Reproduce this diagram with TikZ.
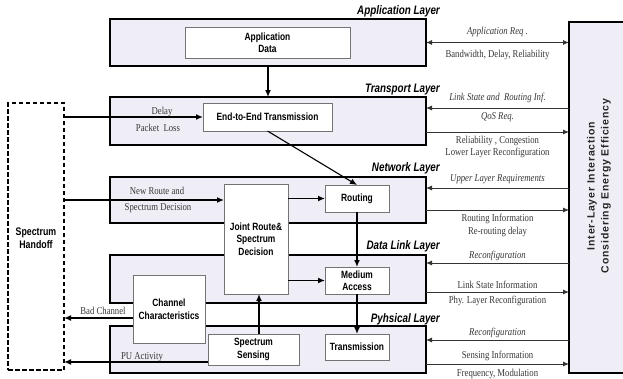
\documentclass[tikz,border=0pt]{standalone}
\usepackage{fontspec}
\setmainfont{Liberation Serif}
\newfontfamily\lblfont[FakeStretch=0.83]{Liberation Serif}
\newfontfamily\boxfont[FakeStretch=0.8]{Liberation Sans}
\newfontfamily\ilfont[LetterSpace=8]{Liberation Sans}
\usetikzlibrary{arrows.meta}
\definecolor{layerfill}{RGB}{239,238,246}
\definecolor{lblgray}{RGB}{55,55,55}
\begin{document}
\begin{tikzpicture}[x=1pt,y=-1pt,
  layer/.style={draw=black, line width=1.6pt, fill=layerfill, inner sep=0pt, outer sep=0pt},
  inbox/.style={draw=black!55, line width=0.8pt, fill=white, inner sep=1pt, outer sep=0pt, align=center,
    font=\boxfont\fontsize{10.5}{12.5}\selectfont\bfseries},
  ltitle/.style={font=\boxfont\fontsize{12.3}{14}\selectfont\bfseries\itshape, anchor=east, inner sep=0pt},
  lbl/.style={font=\lblfont\fontsize{10.5}{12.5}\selectfont, text=lblgray, inner sep=0pt, align=center},
  ilbl/.style={font=\lblfont\fontsize{10.5}{12.5}\selectfont\itshape, text=lblgray, inner sep=0pt, align=center},
  thickarrow/.style={line width=1.4pt, -{Latex[length=7pt,width=6pt]}},
  rarr/.style={line width=0.9pt, draw=black!80, -{Latex[length=6pt,width=5pt]}},
  handbox/.style={draw=black, line width=1.6pt, dash pattern=on 4.5pt off 2.5pt, fill=white, inner sep=0pt, outer sep=0pt,
    align=center, font=\boxfont\fontsize{11}{13.5}\selectfont\bfseries}
]
\fill[white] (0,0) rectangle (623,378);
\useasboundingbox (0,0) rectangle (623,378);

% layers
\node[layer, minimum width=316pt, minimum height=47pt] (app) at (268,42.5) {};
\node[layer, minimum width=316pt, minimum height=48pt] (trans) at (268,121) {};
\node[layer, minimum width=316pt, minimum height=46pt] (net) at (268,200) {};
\node[layer, minimum width=316pt, minimum height=48pt] (dl) at (268,279) {};
\node[layer, minimum width=316pt, minimum height=47pt] (phy) at (268,349.5) {};

% right box
\node[layer, minimum width=60pt, minimum height=351pt] (ilb) at (599,197.5) {};
\node[rotate=90, align=center, font=\ilfont\fontsize{10.5}{14}\selectfont\bfseries, text=black!85] (ilbt) at (599,186)
  {Inter-Layer Interaction\\Considering Energy Efficiency};

% layer titles
\node[ltitle] (tapp) at (440,11) {Application Layer};
\node[ltitle] (ttrans) at (440,90) {Transport Layer};
\node[ltitle] (tnet) at (440,168) {Network Layer};
\node[ltitle] (tdl) at (440,246) {Data Link Layer};
\node[ltitle] (tphy) at (440,319) {Pyhsical Layer};

% inner boxes
\node[inbox, minimum width=165pt, minimum height=31pt] (appdata) at (267.5,42.5) {Application\\Data};
\node[inbox, minimum width=129pt, minimum height=28pt] (e2e) at (267.5,117) {End-to-End Transmission};
\node[inbox, minimum width=64pt, minimum height=27pt] (rout) at (357,198.5) {Routing};
\node[inbox, minimum width=64pt, minimum height=110pt] (joint) at (256,239) {Joint Route\&\\Spectrum\\Decision};
\node[inbox, minimum width=64pt, minimum height=27pt] (mac) at (357,280.5) {Medium\\Access};
\node[inbox, minimum width=64pt, minimum height=26pt] (tx) at (357,347) {Transmission};
\node[inbox, minimum width=72pt, minimum height=68pt] (chan) at (169,309) {Channel\\Characteristics};
\node[inbox, minimum width=91pt, minimum height=31pt] (sense) at (253.5,349.5) {Spectrum\\Sensing};

% spectrum handoff
\node[handbox, minimum width=56pt, minimum height=267pt] (handoff) at (36,236.5) {};
\node[align=center, font=\boxfont\fontsize{11}{13.5}\selectfont\bfseries] (handofft) at (36,238) {Spectrum\\Handoff};

% internal arrows
\draw[thickarrow] (app.south) -- (trans.north);
\draw[thickarrow, line width=1.1pt] (e2e.south) -- (rout.north);
\draw[thickarrow] (handoff.east |- e2e.west) -- (e2e.west);
\coordinate (nry) at ([yshift=-1.5pt]rout.west);
\draw[thickarrow] (handoff.east |- nry) -- (joint.west |- nry);
\draw[thickarrow] (joint.east |- rout.west) -- (rout.west);
\draw[thickarrow] (joint.east |- mac.west) -- (mac.west);
\draw[thickarrow] (rout.south) -- (mac.north);
\draw[thickarrow] (mac.south) -- (tx.north);
\coordinate (sn) at ([xshift=5.5pt]sense.north);
\draw[thickarrow] (sn) -- (sn |- joint.south);
\coordinate (cw) at ([yshift=-9pt]chan.west);
\draw[thickarrow] (cw) -- (cw -| handoff.east);
\coordinate (sw) at ([yshift=-12.5pt]sense.west);
\draw[thickarrow] (sw) -- (sw -| handoff.east);

% right side arrows
\draw[rarr, {Latex[length=6pt,width=5pt]}-{Latex[length=6pt,width=5pt]}] (app.east) -- (app.east -| ilb.west);
\coordinate (t1) at ([yshift=-11pt]trans.north east);
\coordinate (t2) at ([yshift=-35pt]trans.north east);
\coordinate (n1) at ([yshift=-11pt]net.north east);
\coordinate (n2) at ([yshift=-33pt]net.north east);
\coordinate (d1) at ([yshift=-8pt]dl.north east);
\coordinate (d2) at ([yshift=-37pt]dl.north east);
\coordinate (p1) at ([yshift=-14pt]phy.north east);
\coordinate (p2) at ([yshift=-38pt]phy.north east);
\draw[rarr] (t1 -| ilb.west) -- (t1);
\draw[rarr] (t2) -- (t2 -| ilb.west);
\draw[rarr] (n1 -| ilb.west) -- (n1);
\draw[rarr] (n2) -- (n2 -| ilb.west);
\draw[rarr] (d1 -| ilb.west) -- (d1);
\draw[rarr] (d2) -- (d2 -| ilb.west);
\draw[rarr] (p1 -| ilb.west) -- (p1);
\draw[rarr] (p2) -- (p2 -| ilb.west);

% right side labels
\node[ilbl] (la1) at (497.5,32) {Application Req .};
\node[lbl] (la2) at (497.5,55) {Bandwidth, Delay, Reliability};
\node[ilbl] (lt1) at (497.5,98) {Link State and\ \ Routing Inf.};
\node[ilbl] (lt2) at (497.5,117) {QoS Req.};
\node[lbl] (lt3) at (497.5,147) {Reliability , Congestion\\Lower Layer Reconfiguration};
\node[ilbl] (ln1) at (497.5,179) {Upper Layer Requirements};
\node[lbl] (ln2) at (497.5,225.5) {Routing Information\\Re-routing delay};
\node[ilbl] (ld1) at (497.5,256) {Reconfiguration};
\node[lbl] (ld2) at (497.5,285) {Link State Information};
\node[lbl] (ld3) at (497.5,301) {Phy. Layer Reconfiguration};
\node[ilbl] (lp1) at (497.5,333) {Reconfiguration};
\node[lbl] (lp2) at (497.5,356) {Sensing Information};
\node[lbl] (lp3) at (497.5,374) {Frequency, Modulation};

% left labels
\node[lbl] (ldel) at (162,112) {Delay};
\node[lbl] (lpl) at (158,128) {Packet\ \ Loss};
\node[lbl] (lnr1) at (157,191) {New Route and};
\node[lbl] (lnr2) at (158,208) {Spectrum Decision};
\node[lbl] (lbc) at (103,311) {Bad Channel};
\node[lbl] (lpu) at (142,357) {PU Activity};
\end{tikzpicture}
\end{document}
